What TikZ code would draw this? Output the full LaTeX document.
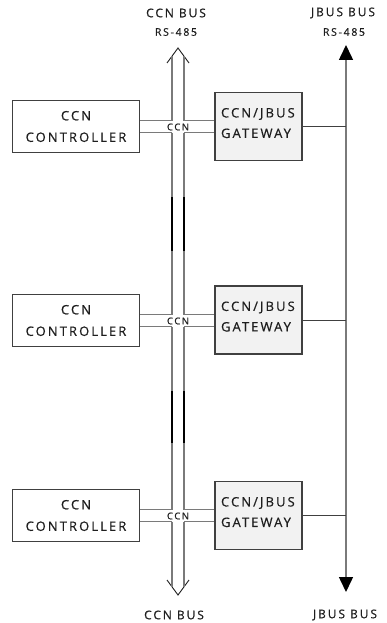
\documentclass[tikz,border=0pt]{standalone}
\usepackage{fontspec}
\setmainfont{Open Sans}
\newfontfamily\trk[LetterSpace=16,FakeBold=0.6]{Open Sans}
\usetikzlibrary{arrows.meta}
\definecolor{wiregray}{HTML}{7A7A7A}
\definecolor{boxedge}{HTML}{404040}
\definecolor{ink}{HTML}{1E1E1E}
\definecolor{gwfill}{HTML}{F2F2F2}
\definecolor{linkgray}{HTML}{404040}

\begin{document}
\begin{tikzpicture}[x=1pt,y=-1pt,
  ctrl/.style={draw=boxedge, line width=1pt, minimum width=127pt,
    minimum height=52pt, inner sep=0pt, align=center, text=ink,
    font=\trk\fontsize{13}{21.5}\selectfont},
  gwbox/.style={draw=boxedge, fill=gwfill, line width=1.2pt,
    minimum width=87pt, minimum height=68pt, inner xsep=6pt, inner ysep=0pt,
    text width=75pt, align=left, text=ink,
    font=\trk\fontsize{13}{20.5}\selectfont},
  buslabel/.style={text=ink, inner sep=0pt, font=\trk\fontsize{12}{12}\selectfont},
  rslabel/.style={text=ink, inner sep=0pt, font=\trk\fontsize{10.5}{10}\selectfont},
  ccntag/.style={text=ink, inner sep=0pt, font=\trk\fontsize{9.5}{9}\selectfont},
  wire/.style={draw=wiregray, line width=1.2pt},
  blackseg/.style={draw=black, line width=1.6pt},
  chevron/.style={draw=ink, line width=0.9pt, line join=miter},
  link/.style={draw=linkgray, line width=1pt},
  jbus/.style={draw=wiregray, line width=1.5pt,
    {Triangle[length=15pt,width=14pt,color=black]}-{Triangle[length=15pt,width=14pt,color=black]}}
]
\useasboundingbox (0,0) rectangle (386,623);

% controllers and gateways
\node[ctrl]  (c1) at (76,126.5) {CCN\\CONTROLLER};
\node[ctrl]  (c2) at (76,320.5) {CCN\\CONTROLLER};
\node[ctrl]  (c3) at (76,515.5) {CCN\\CONTROLLER};
\node[gwbox] (g1) at (258.5,126.5) {CCN/JBUS\\GATEWAY\rule[-7pt]{0pt}{7pt}};
\node[gwbox] (g2) at (258.5,320)   {CCN/JBUS\\GATEWAY\rule[-7pt]{0pt}{7pt}};
\node[gwbox] (g3) at (258.5,515.5) {CCN/JBUS\\GATEWAY\rule[-7pt]{0pt}{7pt}};

% CCN bus: two parallel rails with open arrow heads
\coordinate (tl) at (172,56.2);
\coordinate (tr) at (184,56.2);
\coordinate (dl) at (172,586.8);
\coordinate (dr) at (184,586.8);
\coordinate (ttip) at (178,48);
\coordinate (dtip) at (178,595);

\draw[chevron] (167,63) -- (ttip) -- (189,63);
\draw[chevron] (167,580) -- (dtip) -- (189,580);

\foreach \r in {tl,tr}{
  \draw[wire] (\r) -- ([yshift=6pt]c1.east -| \r);
  \draw[wire] ([yshift=-6pt]c1.east -| \r) -- ([yshift=6pt]c2.east -| \r);
  \draw[wire] ([yshift=-6pt]c2.east -| \r) -- ([yshift=6pt]c3.east -| \r);
}
\draw[wire] ([yshift=-6pt]c3.east -| tl) -- (dl);
\draw[wire] ([yshift=-6pt]c3.east -| tr) -- (dr);

% darker stretches on the rails
\foreach \x in {172,184}{
  \draw[blackseg] (\x,197) -- (\x,251);
  \draw[blackseg] (\x,391) -- (\x,443);
}

% taps from each controller across the bus to its gateway
\foreach \i in {1,2,3}{
  \draw[wire] ([yshift=6pt]c\i.east) -- ([yshift=6pt]c\i.east -| tl);
  \draw[wire] ([yshift=-6pt]c\i.east) -- ([yshift=-6pt]c\i.east -| tl);
  \draw[wire] ([yshift=6pt]c\i.east -| tr) -- ([yshift=6pt]c\i.east -| g\i.west);
  \draw[wire] ([yshift=-6pt]c\i.east -| tr) -- ([yshift=-6pt]c\i.east -| g\i.west);
  \node[ccntag] (t\i) at ([yshift=-0.5pt]c\i.east -| ttip) {CCN};
}

% JBUS line with solid heads
\coordinate (jtop) at (346,45);
\coordinate (jbot) at (346,592);
\draw[jbus] (jtop) -- (jbot);
\foreach \i in {1,2,3}{
  \draw[link] (g\i.east) -- (g\i.east -| jtop);
}

% bus names
\node[buslabel] (ccntop) at (176,13) {CCN BUS};
\node[rslabel]  (rs1)    at (176,32) {RS-485};
\node[buslabel] (jtopl)  at (343,13) {JBUS BUS};
\node[rslabel]  (rs2)    at (344,32) {RS-485};
\node[buslabel] (ccnbot) at (174,615) {CCN BUS};
\node[buslabel] (jbotl)  at (345,615) {JBUS BUS};
\end{tikzpicture}
\end{document}
